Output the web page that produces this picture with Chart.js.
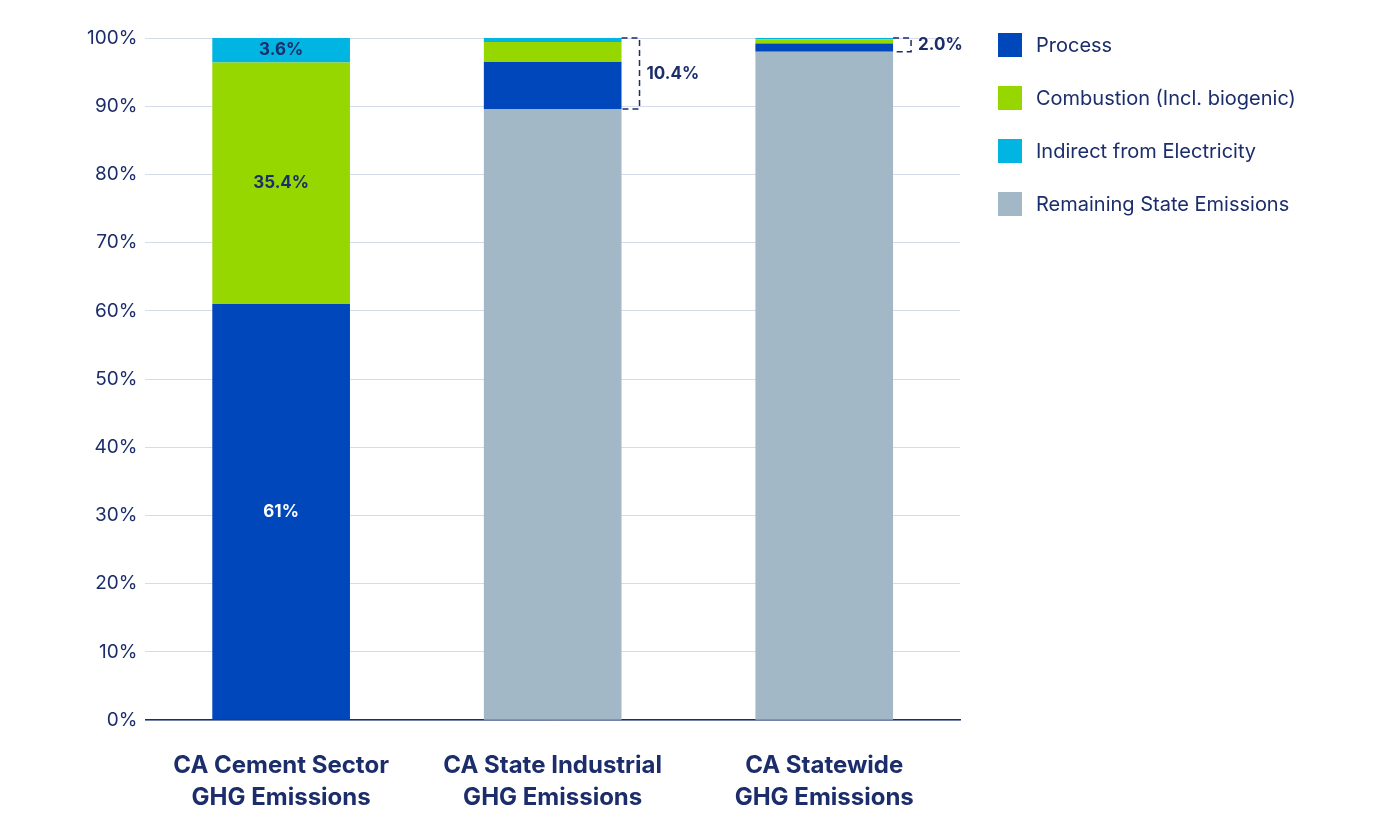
<!DOCTYPE html>
<html>
<head>
<meta charset="utf-8">
<script src="https://cdn.jsdelivr.net/npm/chart.js@4"></script>
<style>
  body { margin: 0; background: #fff; font-family: Inter, sans-serif; overflow: hidden; }
  #wrap { position: relative; width: 1400px; height: 837px; overflow: hidden; }
  #legend { position: absolute; left: 998px; top: 18px; color: #1b2d6b; font-size: 20px; }
  .item { display: flex; align-items: center; height: 53px; }
  .box { width: 24px; height: 24px; margin-right: 14px; }
</style>
</head>
<body>
<div id="wrap">
  <canvas id="chart" width="1400" height="850"></canvas>
  <div id="legend"></div>
</div>
<script>
const categories = [['CA Cement Sector', 'GHG Emissions'], ['CA State Industrial', 'GHG Emissions'], ['CA Statewide', 'GHG Emissions']];
const processValues = [61, 6.9, 1.2];
const combustionValues = [35.4, 2.9, 0.6];
const indirectValues = [3.6, 0.6, 0.2];
const remainingValues = [0, 89.6, 98.0];
const cementLabels = ['61%', '35.4%', '3.6%'];
const bracketLabels = ['', '10.4%', '2.0%'];

const navy = '#1b2d6b';
const seriesColors = ['#0047bb', '#97d700', '#00b5e2', '#a2b8c6'];
const seriesNames = ['Process', 'Combustion (Incl. biogenic)', 'Indirect from Electricity', 'Remaining State Emissions'];

// legend
const legend = document.getElementById('legend');
seriesNames.forEach(function (name, i) {
    const d = document.createElement('div');
    d.className = 'item';
    d.innerHTML = '<div class="box" style="background:' + seriesColors[i] + '"></div>' + name;
    legend.appendChild(d);
});

// stack order bottom -> top: remaining, process, combustion, indirect
const stackOrder = [3, 0, 1, 2];
const seriesValues = [processValues, combustionValues, indirectValues, remainingValues];

const annotations = {
    id: 'annotations',
    afterDatasetsDraw(chart) {
        const ctx = chart.ctx;
        const y = chart.scales.y;
        ctx.save();
        ctx.font = 'bold 17px Inter, sans-serif';
        ctx.textAlign = 'center';
        ctx.textBaseline = 'middle';
        // labels inside the cement bar
        const labelColors = ['#fff', navy, navy];
        [0, 1, 2].forEach(function (s) {
            const el = chart.getDatasetMeta(stackOrder.indexOf(s)).data[0];
            ctx.fillStyle = labelColors[s];
            ctx.fillText(cementLabels[s], el.x, (el.y + el.base) / 2);
        });
        // dashed brackets
        bracketLabels.forEach(function (txt, i) {
            if (!txt) return;
            const el = chart.getDatasetMeta(0).data[i];
            const right = el.x + el.width / 2;
            const x2 = right + 18;
            const top = y.getPixelForValue(100);
            const bottom = el.y;
            ctx.strokeStyle = navy;
            ctx.lineWidth = 1.5;
            ctx.setLineDash([6, 4]);
            ctx.beginPath();
            ctx.moveTo(right, top);
            ctx.lineTo(x2, top);
            ctx.lineTo(x2, bottom);
            ctx.lineTo(right, bottom);
            ctx.stroke();
            ctx.setLineDash([]);
            ctx.fillStyle = navy;
            ctx.textAlign = 'left';
            ctx.fillText(txt, x2 + 7, (top + bottom) / 2);
        });
        ctx.restore();
    }
};

new Chart(document.getElementById('chart'), {
    type: 'bar',
    data: {
        labels: categories,
        datasets: stackOrder.map(function (i) {
            return {
                label: seriesNames[i],
                data: seriesValues[i],
                backgroundColor: seriesColors[i],
                stack: 's',
                categoryPercentage: 1,
                barPercentage: 0.507
            };
        })
    },
    options: {
        responsive: false,
        animation: false,
        layout: { padding: { left: 79, right: 440, top: 38, bottom: 6 } },
        plugins: { legend: { display: false }, tooltip: { enabled: false } },
        scales: {
            x: {
                stacked: true,
                grid: { display: false, drawTicks: false },
                border: { color: '#1b2d6b', width: 1.5 },
                ticks: { color: navy, font: { size: 24, weight: 'bold', family: 'Inter, sans-serif', lineHeight: 1.33 }, padding: 30 }
            },
            y: {
                stacked: true,
                min: 0,
                max: 100,
                grid: { color: '#d6dbea', drawTicks: false },
                border: { display: false },
                ticks: {
                    stepSize: 10,
                    color: navy,
                    padding: 8,
                    font: { size: 19, family: 'Inter, sans-serif' },
                    callback: function (v) { return v + '%'; }
                }
            }
        }
    },
    plugins: [annotations]
});
</script>
</body>
</html>
